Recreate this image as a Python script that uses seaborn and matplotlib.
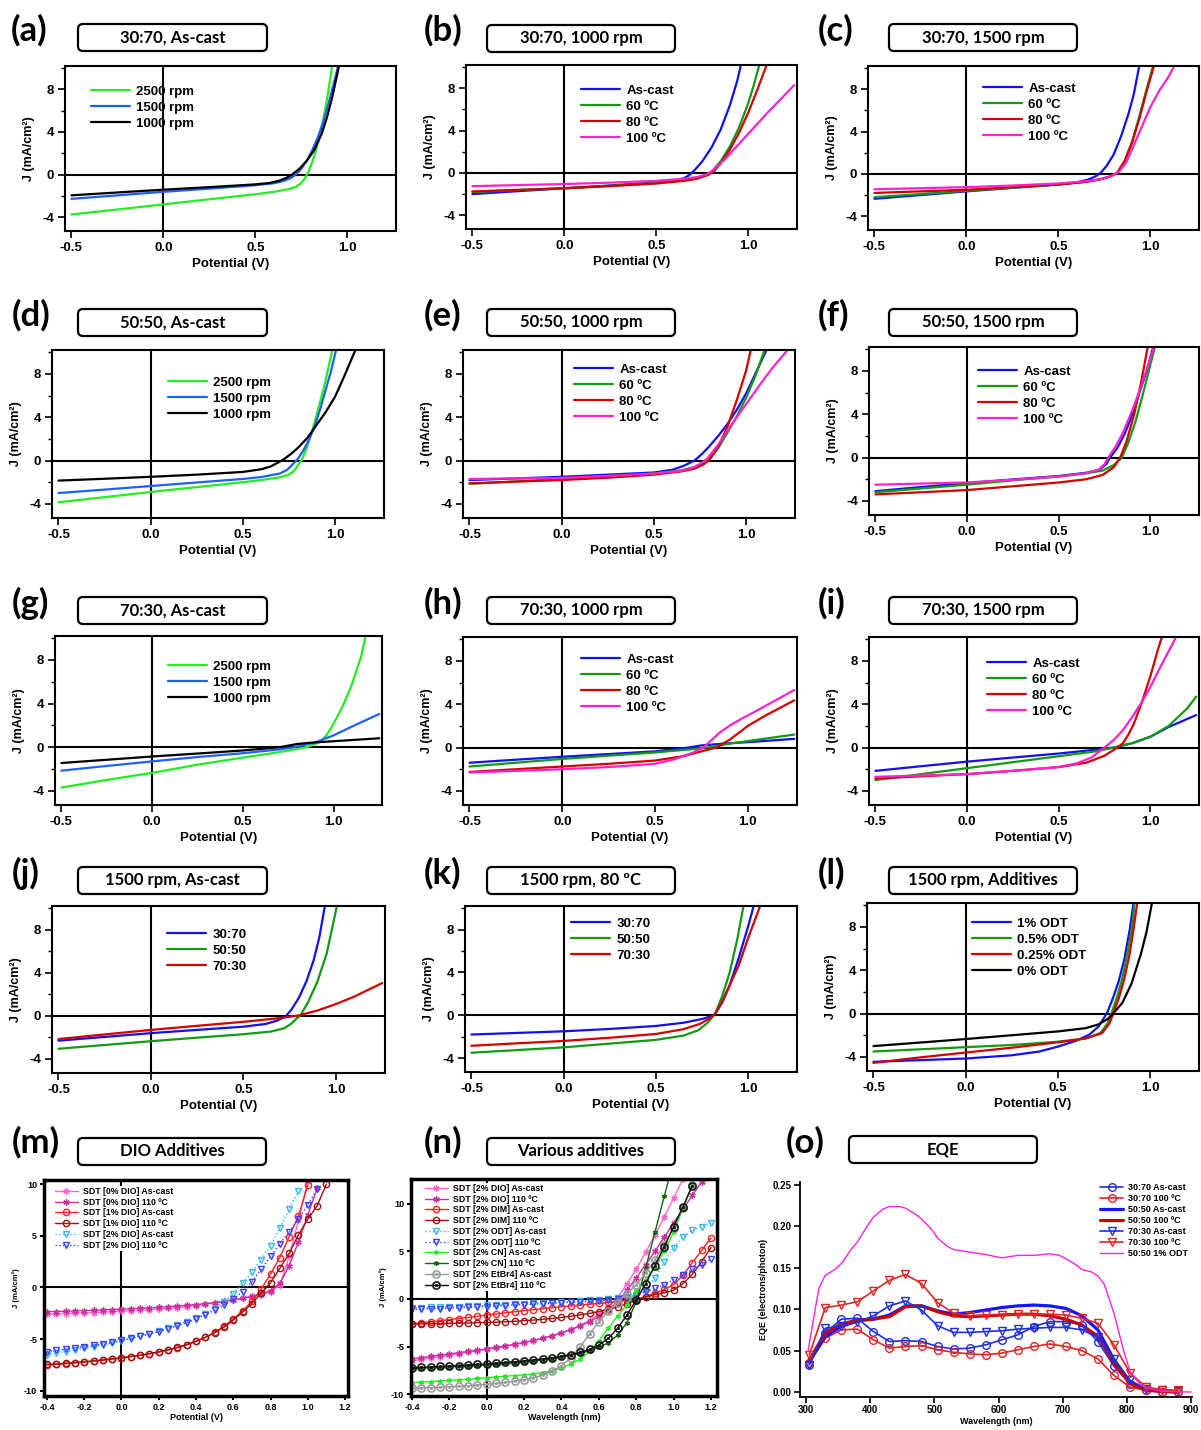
import matplotlib
matplotlib.use("Agg")
import matplotlib.pyplot as plt
import pandas as pd
import seaborn as sns
from matplotlib.patches import FancyBboxPatch
from matplotlib.transforms import IdentityTransform
from matplotlib.ticker import MultipleLocator

# ------------------------------------------------------------------ data
# J-V curves: (Potential V, J mA/cm2) pairs
a_2500 = [(-0.5,-3.75),(-0.25,-3.28),(0.0,-2.80),(0.25,-2.32),(0.5,-1.85),(0.6,-1.62),(0.68,-1.38),(0.72,-1.15),(0.75,-0.8),(0.77,-0.35),(0.79,0.3),(0.81,1.2),(0.83,2.3),(0.85,3.6),(0.87,5.2),(0.89,7.1),(0.91,9.3),(0.917,10.2)]
a_1500 = [(-0.5,-2.28),(-0.25,-1.95),(0.0,-1.62),(0.25,-1.32),(0.5,-1.0),(0.6,-0.82),(0.65,-0.62),(0.69,-0.35),(0.72,0.0),(0.75,0.55),(0.78,1.3),(0.81,2.3),(0.84,3.5),(0.87,5.0),(0.9,6.8),(0.93,8.8),(0.95,10.2)]
a_1000 = [(-0.5,-1.95),(-0.25,-1.68),(0.0,-1.42),(0.25,-1.18),(0.5,-0.92),(0.58,-0.78),(0.63,-0.58),(0.67,-0.3),(0.7,0.0),(0.74,0.55),(0.78,1.3),(0.82,2.3),(0.86,3.8),(0.89,5.4),(0.92,7.4),(0.95,9.8),(0.955,10.2)]

b_ascast = [(-0.5,-2.0),(-0.25,-1.72),(0.0,-1.45),(0.25,-1.18),(0.5,-0.9),(0.6,-0.7),(0.65,-0.5),(0.68,-0.2),(0.71,0.3),(0.75,1.1),(0.8,2.4),(0.85,4.1),(0.9,6.4),(0.94,8.7),(0.96,10.2)]
b_60 = [(-0.5,-1.8),(-0.25,-1.62),(0.0,-1.45),(0.25,-1.22),(0.5,-0.95),(0.65,-0.7),(0.72,-0.5),(0.77,-0.2),(0.8,0.1),(0.85,1.1),(0.9,2.5),(0.95,4.3),(1.0,6.6),(1.03,8.3),(1.06,10.2)]
b_80 = [(-0.5,-1.75),(-0.25,-1.6),(0.0,-1.45),(0.25,-1.25),(0.5,-1.0),(0.65,-0.75),(0.72,-0.55),(0.78,-0.2),(0.81,0.1),(0.85,0.9),(0.9,2.2),(0.95,3.8),(1.0,5.7),(1.05,7.9),(1.1,10.2)]
b_100 = [(-0.5,-1.25),(-0.25,-1.15),(0.0,-1.05),(0.25,-0.92),(0.5,-0.75),(0.65,-0.55),(0.72,-0.4),(0.77,-0.15),(0.8,0.15),(0.85,0.9),(0.9,1.8),(1.0,3.7),(1.1,5.6),(1.2,7.4),(1.25,8.3)]

c_ascast = [(-0.5,-2.35),(-0.25,-2.0),(0.0,-1.65),(0.25,-1.32),(0.5,-1.0),(0.6,-0.8),(0.66,-0.55),(0.7,-0.25),(0.73,0.1),(0.76,0.7),(0.8,1.8),(0.84,3.5),(0.88,5.6),(0.91,7.5),(0.94,10.2)]
c_60 = [(-0.5,-2.2),(-0.25,-1.9),(0.0,-1.6),(0.25,-1.3),(0.5,-1.0),(0.65,-0.75),(0.73,-0.5),(0.78,-0.25),(0.82,0.1),(0.86,1.2),(0.9,3.0),(0.94,5.4),(0.98,8.0),(1.015,10.2)]
c_80 = [(-0.5,-1.8),(-0.25,-1.65),(0.0,-1.5),(0.25,-1.25),(0.5,-1.0),(0.65,-0.75),(0.73,-0.5),(0.78,-0.25),(0.82,0.1),(0.86,1.2),(0.9,2.9),(0.94,5.2),(0.98,7.8),(1.02,10.2)]
c_100 = [(-0.5,-1.45),(-0.25,-1.35),(0.0,-1.25),(0.25,-1.1),(0.5,-0.9),(0.65,-0.7),(0.73,-0.5),(0.79,-0.2),(0.83,0.2),(0.87,1.1),(0.9,2.3),(0.95,4.3),(1.0,6.3),(1.05,7.9),(1.1,9.2),(1.13,10.2)]

d_2500 = [(-0.5,-3.85),(-0.25,-3.38),(0.0,-2.9),(0.25,-2.45),(0.5,-2.0),(0.6,-1.8),(0.7,-1.55),(0.75,-1.3),(0.78,-0.9),(0.8,-0.4),(0.82,0.1),(0.84,0.9),(0.86,1.9),(0.88,3.0),(0.9,4.2),(0.92,5.5),(0.94,6.8),(0.96,8.3),(0.985,10.2)]
d_1500 = [(-0.5,-3.0),(-0.25,-2.68),(0.0,-2.35),(0.25,-2.02),(0.5,-1.7),(0.6,-1.52),(0.7,-1.2),(0.74,-0.85),(0.77,-0.35),(0.8,0.2),(0.83,1.0),(0.86,2.0),(0.89,3.2),(0.92,4.8),(0.95,6.6),(0.98,8.4),(1.005,10.2)]
d_1000 = [(-0.5,-1.85),(-0.25,-1.68),(0.0,-1.5),(0.25,-1.3),(0.5,-1.05),(0.6,-0.8),(0.65,-0.55),(0.7,-0.1),(0.72,0.1),(0.76,0.6),(0.8,1.2),(0.85,2.1),(0.9,3.3),(0.95,4.5),(1.0,5.9),(1.05,7.8),(1.11,10.2)]

e_ascast = [(-0.5,-1.8),(-0.25,-1.65),(0.0,-1.5),(0.25,-1.3),(0.5,-1.1),(0.6,-0.85),(0.66,-0.5),(0.72,0.0),(0.76,0.6),(0.8,1.3),(0.85,2.3),(0.9,3.4),(0.95,4.7),(1.0,6.2),(1.05,8.0),(1.11,10.2)]
e_60 = [(-0.5,-2.15),(-0.25,-1.92),(0.0,-1.7),(0.25,-1.45),(0.5,-1.2),(0.65,-0.9),(0.72,-0.6),(0.77,-0.2),(0.8,0.1),(0.85,1.2),(0.9,2.6),(0.95,4.1),(1.0,5.8),(1.05,7.8),(1.1,10.2)]
e_80 = [(-0.5,-2.1),(-0.25,-1.95),(0.0,-1.8),(0.25,-1.58),(0.5,-1.3),(0.65,-1.0),(0.72,-0.75),(0.77,-0.35),(0.8,0.05),(0.85,1.3),(0.9,3.2),(0.95,5.6),(1.0,8.3),(1.025,10.2)]
e_100 = [(-0.5,-1.7),(-0.25,-1.65),(0.0,-1.6),(0.25,-1.42),(0.5,-1.2),(0.65,-0.95),(0.72,-0.6),(0.76,-0.2),(0.79,0.2),(0.85,1.5),(0.9,2.8),(0.95,4.0),(1.0,5.2),(1.05,6.4),(1.1,7.6),(1.15,8.7),(1.225,10.2)]

f_ascast = [(-0.5,-3.1),(-0.25,-2.72),(0.0,-2.35),(0.25,-2.02),(0.5,-1.7),(0.65,-1.4),(0.72,-1.15),(0.76,-0.6),(0.78,0.0),(0.82,0.9),(0.86,2.2),(0.9,3.9),(0.94,6.0),(0.98,8.0),(1.015,10.2)]
f_60 = [(-0.5,-3.2),(-0.25,-2.85),(0.0,-2.5),(0.25,-2.1),(0.5,-1.75),(0.65,-1.45),(0.74,-1.2),(0.8,-0.7),(0.845,0.0),(0.88,1.4),(0.92,3.4),(0.96,5.9),(1.0,8.6),(1.025,10.2)]
f_80 = [(-0.5,-3.4),(-0.25,-3.2),(0.0,-3.0),(0.25,-2.65),(0.5,-2.3),(0.65,-2.0),(0.74,-1.6),(0.8,-0.9),(0.835,0.0),(0.87,1.5),(0.91,3.9),(0.95,7.0),(0.985,10.2)]
f_100 = [(-0.5,-2.5),(-0.25,-2.4),(0.0,-2.3),(0.25,-2.05),(0.5,-1.75),(0.65,-1.45),(0.72,-1.1),(0.75,-0.6),(0.77,0.0),(0.81,1.0),(0.85,2.3),(0.9,4.3),(0.95,6.6),(1.02,10.2)]

g_2500 = [(-0.5,-3.7),(-0.25,-3.0),(0.0,-2.35),(0.25,-1.6),(0.5,-0.95),(0.7,-0.45),(0.8,-0.15),(0.86,0.05),(0.92,0.45),(0.96,1.1),(1.0,2.2),(1.05,3.8),(1.1,5.8),(1.15,8.3),(1.175,10.2)]
g_1500 = [(-0.5,-2.15),(-0.25,-1.72),(0.0,-1.3),(0.25,-0.9),(0.5,-0.55),(0.7,-0.2),(0.78,0.0),(0.9,0.45),(1.0,1.1),(1.1,1.9),(1.25,3.05)]
g_1000 = [(-0.5,-1.45),(-0.25,-1.15),(0.0,-0.85),(0.25,-0.58),(0.5,-0.3),(0.7,0.0),(0.8,0.3),(0.9,0.45),(1.0,0.55),(1.25,0.82)]

h_ascast = [(-0.5,-1.4),(-0.25,-1.12),(0.0,-0.85),(0.25,-0.6),(0.5,-0.35),(0.68,0.0),(0.75,0.2),(0.9,0.4),(1.0,0.5),(1.25,0.8)]
h_60 = [(-0.5,-1.75),(-0.25,-1.4),(0.0,-1.05),(0.25,-0.75),(0.5,-0.45),(0.7,-0.15),(0.78,0.0),(0.9,0.35),(1.0,0.6),(1.25,1.2)]
h_80 = [(-0.5,-2.25),(-0.25,-2.0),(0.0,-1.75),(0.25,-1.5),(0.5,-1.2),(0.65,-0.8),(0.75,-0.35),(0.83,0.0),(0.9,0.7),(0.97,1.6),(1.0,2.0),(1.1,3.0),(1.25,4.35)]
h_100 = [(-0.5,-2.3),(-0.25,-2.15),(0.0,-2.0),(0.25,-1.8),(0.5,-1.5),(0.6,-1.1),(0.7,-0.5),(0.76,0.0),(0.85,1.4),(0.9,2.0),(0.97,2.7),(1.0,2.95),(1.1,3.9),(1.25,5.3)]

i_ascast = [(-0.5,-2.15),(-0.25,-1.72),(0.0,-1.3),(0.25,-0.92),(0.5,-0.55),(0.7,-0.2),(0.8,0.0),(0.9,0.4),(1.0,1.0),(1.1,1.9),(1.25,3.0)]
i_60 = [(-0.5,-3.0),(-0.25,-2.45),(0.0,-1.9),(0.25,-1.35),(0.5,-0.8),(0.7,-0.35),(0.8,0.0),(0.9,0.4),(1.0,1.0),(1.1,2.0),(1.2,3.6),(1.25,4.7)]
i_80 = [(-0.5,-2.85),(-0.25,-2.65),(0.0,-2.45),(0.25,-2.15),(0.5,-1.8),(0.65,-1.4),(0.75,-0.75),(0.82,0.0),(0.85,0.4),(0.88,1.2),(0.91,2.2),(0.955,4.25),(1.0,6.6),(1.04,9.0),(1.063,10.2)]
i_100 = [(-0.5,-2.7),(-0.25,-2.58),(0.0,-2.45),(0.25,-2.15),(0.5,-1.8),(0.6,-1.45),(0.68,-0.9),(0.75,0.0),(0.8,0.7),(0.85,1.6),(0.9,2.8),(0.955,4.25),(1.0,5.6),(1.05,7.3),(1.1,8.9),(1.14,10.2)]

j_3070 = [(-0.5,-2.3),(-0.25,-1.95),(0.0,-1.6),(0.25,-1.3),(0.5,-1.0),(0.62,-0.75),(0.68,-0.45),(0.71,-0.2),(0.73,0.0),(0.76,0.6),(0.8,1.7),(0.84,3.2),(0.88,5.2),(0.91,7.3),(0.94,10.2)]
j_5050 = [(-0.5,-3.05),(-0.25,-2.7),(0.0,-2.35),(0.25,-2.02),(0.5,-1.7),(0.65,-1.45),(0.72,-1.15),(0.76,-0.7),(0.79,-0.2),(0.81,0.1),(0.85,1.3),(0.9,3.2),(0.95,5.8),(1.005,10.2)]
j_7030 = [(-0.5,-2.15),(-0.25,-1.72),(0.0,-1.3),(0.25,-0.92),(0.5,-0.55),(0.7,-0.2),(0.8,0.05),(0.9,0.5),(1.0,1.1),(1.1,1.8),(1.25,3.05)]

k_3070 = [(-0.5,-1.8),(-0.25,-1.65),(0.0,-1.5),(0.25,-1.28),(0.5,-1.0),(0.65,-0.7),(0.75,-0.35),(0.8,-0.1),(0.82,0.1),(0.86,1.2),(0.9,2.8),(0.95,5.4),(1.0,8.3),(1.03,10.2)]
k_5050 = [(-0.5,-3.5),(-0.25,-3.25),(0.0,-3.0),(0.25,-2.65),(0.5,-2.3),(0.65,-1.9),(0.73,-1.4),(0.78,-0.7),(0.82,0.1),(0.86,1.8),(0.9,4.0),(0.94,7.0),(0.975,10.2)]
k_7030 = [(-0.5,-2.85),(-0.25,-2.62),(0.0,-2.4),(0.25,-2.1),(0.5,-1.75),(0.65,-1.3),(0.74,-0.8),(0.79,-0.3),(0.82,0.1),(0.86,1.3),(0.9,2.8),(0.95,4.7),(1.0,7.2),(1.065,10.2)]

l_1 = [(-0.5,-4.45),(-0.25,-4.3),(0.0,-4.15),(0.25,-3.85),(0.4,-3.5),(0.5,-3.05),(0.6,-2.5),(0.67,-1.95),(0.72,-1.2),(0.75,-0.4),(0.77,0.2),(0.8,1.5),(0.83,3.0),(0.86,5.0),(0.89,7.8),(0.91,10.2)]
l_05 = [(-0.5,-3.5),(-0.25,-3.3),(0.0,-3.1),(0.25,-2.9),(0.5,-2.6),(0.65,-2.3),(0.73,-1.8),(0.77,-0.9),(0.79,0.0),(0.82,1.5),(0.85,3.3),(0.88,5.8),(0.905,8.3),(0.915,10.2)]
l_025 = [(-0.5,-4.55),(-0.25,-4.05),(0.0,-3.6),(0.25,-3.15),(0.5,-2.65),(0.65,-2.3),(0.74,-1.8),(0.78,-0.9),(0.8,0.0),(0.83,1.4),(0.86,3.2),(0.89,5.6),(0.91,7.8),(0.93,10.2)]
l_0 = [(-0.5,-3.0),(-0.25,-2.68),(0.0,-2.35),(0.25,-2.0),(0.5,-1.65),(0.65,-1.35),(0.72,-1.0),(0.77,-0.5),(0.8,0.0),(0.85,1.0),(0.9,2.8),(0.95,5.5),(0.98,7.5),(1.01,10.2)]

# (m) DIO additives: voltage sweep and J for each device
m_v = [-0.40,-0.35,-0.30,-0.25,-0.20,-0.15,-0.10,-0.05,0.00,0.05,0.10,0.15,0.20,0.25,0.30,0.35,0.40,0.45,0.50,0.55,0.60,0.65,0.70,0.75,0.80,0.85,0.90,0.95,1.00,1.05,1.10]
m_dio0_ascast = [-2.60,-2.57,-2.53,-2.50,-2.46,-2.43,-2.39,-2.35,-2.30,-2.26,-2.21,-2.15,-2.09,-2.02,-1.95,-1.86,-1.76,-1.64,-1.50,-1.36,-1.20,-1.05,-0.90,-0.68,-0.40,0.20,3.00,6.50,10.30]
m_dio0_110 = [-2.35,-2.33,-2.30,-2.27,-2.24,-2.21,-2.18,-2.14,-2.10,-2.06,-2.02,-1.97,-1.92,-1.86,-1.80,-1.73,-1.65,-1.56,-1.46,-1.34,-1.20,-1.03,-0.85,-0.62,-0.30,0.40,2.10,4.40,7.00,9.60]
m_dio1_ascast = [-7.50,-7.45,-7.38,-7.30,-7.22,-7.13,-7.04,-6.93,-6.82,-6.70,-6.57,-6.42,-6.25,-6.05,-5.82,-5.55,-5.22,-4.82,-4.35,-3.75,-3.05,-2.25,-1.35,-0.15,1.30,2.90,4.90,6.90,9.90]
m_dio1_110 = [-7.45,-7.40,-7.33,-7.26,-7.18,-7.10,-7.01,-6.91,-6.80,-6.68,-6.55,-6.40,-6.23,-6.03,-5.80,-5.53,-5.20,-4.82,-4.38,-3.85,-3.15,-2.40,-1.55,-0.55,0.45,1.85,3.30,5.10,6.60,7.90,10.00]
m_dio2_ascast = [-6.50,-6.35,-6.20,-6.05,-5.90,-5.75,-5.58,-5.40,-5.15,-4.95,-4.72,-4.48,-4.22,-3.95,-3.65,-3.32,-2.95,-2.52,-2.05,-1.45,-0.60,0.40,1.50,2.70,4.00,5.80,7.60,9.30]
m_dio2_110 = [-6.20,-6.08,-5.96,-5.84,-5.72,-5.60,-5.46,-5.31,-5.12,-4.93,-4.72,-4.50,-4.26,-4.00,-3.71,-3.40,-3.05,-2.66,-2.22,-1.72,-1.12,-0.42,0.55,1.75,3.00,4.25,5.40,6.60,8.00,9.50]

# (n) various additives
n_v = [-0.40,-0.35,-0.30,-0.25,-0.20,-0.15,-0.10,-0.05,0.00,0.05,0.10,0.15,0.20,0.25,0.30,0.35,0.40,0.45,0.50,0.55,0.60,0.65,0.70,0.75,0.80,0.85,0.90,0.95,1.00,1.05,1.10,1.15,1.20]
n_dio_ascast = [-6.50,-6.35,-6.20,-6.05,-5.90,-5.75,-5.60,-5.45,-5.30,-5.15,-4.98,-4.80,-4.60,-4.38,-4.14,-3.87,-3.56,-3.20,-2.78,-2.25,-1.60,-0.80,0.10,1.60,3.10,4.90,6.70,8.60,10.60,12.60]
n_dio_110 = [-6.30,-6.17,-6.04,-5.91,-5.78,-5.65,-5.52,-5.38,-5.24,-5.09,-4.93,-4.76,-4.57,-4.36,-4.13,-3.87,-3.58,-3.24,-2.85,-2.40,-1.85,-1.15,-0.30,0.90,2.20,3.60,5.00,6.50,8.00,9.40,10.90,12.30]
n_dim_ascast = [-2.60,-2.50,-2.40,-2.29,-2.18,-2.06,-1.94,-1.82,-1.70,-1.58,-1.46,-1.35,-1.24,-1.13,-1.03,-0.93,-0.83,-0.74,-0.65,-0.56,-0.47,-0.37,-0.27,-0.16,-0.04,0.25,0.60,1.00,1.50,2.50,3.80,5.10,6.40]
n_dim_110 = [-2.65,-2.63,-2.61,-2.59,-2.57,-2.55,-2.53,-2.50,-2.47,-2.44,-2.40,-2.35,-2.29,-2.22,-2.14,-2.05,-1.94,-1.82,-1.68,-1.52,-1.33,-1.10,-0.82,-0.50,-0.12,0.20,0.45,0.65,0.90,1.60,2.60,3.90,5.40]
n_odt_ascast = [-0.95,-0.92,-0.89,-0.86,-0.83,-0.80,-0.76,-0.72,-0.68,-0.64,-0.60,-0.56,-0.52,-0.48,-0.43,-0.38,-0.33,-0.28,-0.22,-0.16,-0.10,-0.03,0.05,0.15,0.40,0.90,2.20,3.90,5.40,6.50,7.20,7.60,8.00]
n_odt_110 = [-1.10,-1.07,-1.04,-1.01,-0.97,-0.93,-0.89,-0.85,-0.80,-0.75,-0.70,-0.65,-0.60,-0.55,-0.50,-0.45,-0.40,-0.35,-0.30,-0.25,-0.20,-0.13,-0.05,0.10,0.35,0.75,1.10,1.50,2.00,2.50,3.10,3.60,4.20]
n_cn_ascast = [-8.80,-8.74,-8.68,-8.62,-8.56,-8.50,-8.43,-8.36,-8.28,-8.20,-8.12,-8.05,-7.97,-7.88,-7.75,-7.55,-7.25,-6.85,-6.35,-5.50,-4.40,-3.10,-1.80,-0.60,0.80,2.00,3.40,5.00,7.00,9.50,12.00]
n_cn_110 = [-7.30,-7.26,-7.22,-7.18,-7.14,-7.09,-7.04,-6.98,-6.92,-6.85,-6.78,-6.70,-6.61,-6.51,-6.40,-6.27,-6.12,-5.94,-5.72,-5.45,-5.10,-4.60,-3.80,-2.50,-0.30,3.20,7.00,10.80,14.50]
n_etbr_ascast = [-9.40,-9.36,-9.32,-9.28,-9.23,-9.18,-9.12,-9.05,-8.97,-8.88,-8.78,-8.65,-8.50,-8.30,-8.00,-7.60,-7.00,-6.20,-5.00,-3.70,-2.40,-1.30,-0.40,0.50,1.50,2.70,4.10,5.70,7.50,9.60,12.00]
n_etbr_110 = [-7.25,-7.20,-7.15,-7.10,-7.05,-7.00,-6.94,-6.88,-6.82,-6.75,-6.68,-6.60,-6.51,-6.41,-6.30,-6.17,-6.02,-5.84,-5.62,-5.30,-4.85,-4.15,-3.10,-1.70,-0.10,1.60,3.50,5.50,7.60,9.70,11.90]

# (o) EQE
o_wl = [305,330,355,380,405,430,455,480,505,530,555,580,605,630,655,680,705,730,755,780,805,830,855,880]
o_3070_ascast = [0.033,0.071,0.088,0.089,0.073,0.061,0.062,0.061,0.055,0.052,0.053,0.057,0.063,0.069,0.079,0.085,0.085,0.081,0.061,0.031,0.010,0.002,0.000,0.000]
o_3070_100 = [0.035,0.065,0.075,0.076,0.063,0.053,0.055,0.056,0.051,0.048,0.046,0.045,0.047,0.051,0.055,0.058,0.055,0.050,0.040,0.020,0.006,0.002,0.000,0.000]
o_5050_ascast = [0.037,0.067,0.079,0.086,0.088,0.093,0.104,0.104,0.098,0.094,0.096,0.099,0.102,0.104,0.105,0.104,0.101,0.092,0.075,0.039,0.012,0.003,0.001,0.000]
o_5050_100 = [0.039,0.071,0.082,0.087,0.088,0.091,0.103,0.104,0.097,0.092,0.091,0.092,0.093,0.094,0.094,0.092,0.088,0.081,0.067,0.035,0.010,0.002,0.001,0.000]
o_7030_ascast = [0.033,0.077,0.080,0.084,0.092,0.104,0.110,0.099,0.080,0.072,0.072,0.073,0.074,0.076,0.077,0.078,0.078,0.075,0.066,0.040,0.014,0.004,0.002,0.001]
o_7030_100 = [0.045,0.102,0.105,0.109,0.122,0.135,0.142,0.131,0.108,0.095,0.092,0.093,0.093,0.094,0.094,0.094,0.093,0.089,0.083,0.057,0.023,0.006,0.003,0.002]
o_odt_wl = [303,312,320,330,345,355,370,380,395,405,420,430,445,455,470,480,495,505,520,530,555,580,605,630,655,680,695,705,720,730,745,755,765,780,795,805,820,830,855,880,900]
o_odt = [0.049,0.090,0.125,0.141,0.148,0.155,0.172,0.181,0.200,0.211,0.221,0.224,0.224,0.222,0.215,0.209,0.197,0.186,0.176,0.172,0.169,0.166,0.162,0.165,0.165,0.167,0.165,0.161,0.154,0.148,0.145,0.140,0.130,0.095,0.050,0.025,0.010,0.005,0.001,0.0003,0.000]

# ------------------------------------------------------------------ style
W, H = 1201, 1430
sns.set_theme(style="ticks")
plt.rcParams["font.family"] = ["Liberation Sans", "DejaVu Sans"]
plt.rcParams["font.weight"] = "bold"
plt.rcParams["axes.labelweight"] = "bold"
for k in ["axes.edgecolor", "xtick.color", "ytick.color", "text.color", "axes.labelcolor"]:
    plt.rcParams[k] = "black"
TITLE_FONT = ["Lato", "DejaVu Sans"]

C_LGREEN = "#22ee22"
C_LBLUE = "#1f5fff"
C_BLUE = "#1010f0"
C_GREEN = "#129a12"
C_RED = "#d20000"
C_MAG = "#ff22cc"

fig = plt.figure(figsize=(W / 100, H / 100), dpi=100)
fig.patch.set_facecolor("white")


def add_ax(rect):
    l, t, r, b = rect
    return fig.add_axes([l / W, 1 - b / H, (r - l) / W, (b - t) / H])


def draw(ax, x, y, color, label, lw=1.6, **kw):
    df = pd.DataFrame({"x": list(x), "y": list(y)})
    if "marker" in kw:
        kw.setdefault("markeredgecolor", color)
        kw.setdefault("markeredgewidth", 1.0)
    sns.lineplot(data=df, x="x", y="y", ax=ax, color=color, linewidth=lw,
                 label=label, sort=False, estimator=None, **kw)


def place_legend(ax, rect, hx, ty, fs, hl, ls, hp=0.5, opaque=False):
    l, t, r, b = rect
    fx = (hx - l) / (r - l)
    fy = (b - ty) / (b - t)
    lg = ax.legend(loc="upper left", bbox_to_anchor=(fx, fy), frameon=opaque, fontsize=fs,
                   handlelength=hl, labelspacing=ls, handletextpad=hp, borderpad=0.1,
                   borderaxespad=0, fancybox=False)
    if opaque:
        fr = lg.get_frame()
        fr.set_facecolor("white")
        fr.set_edgecolor("none")
        fr.set_alpha(1.0)
        lg.set_zorder(5)


def title_box(box, text, fs=12):
    x0, y0, x1, y1 = box
    p = FancyBboxPatch((x0, H - y1), x1 - x0, y1 - y0,
                       boxstyle="round,pad=0,rounding_size=5",
                       transform=IdentityTransform(), fc="white", ec="black", lw=1.6)
    fig.add_artist(p)
    fig.text((x0 + x1) / 2 / W, 1 - (y0 + y1) / 2 / H, text, ha="center", va="center",
             fontsize=fs, fontweight="bold", family=TITLE_FONT)


def panel_letter(pos, s):
    x, yc = pos
    fig.text(x / W, 1 - yc / H, s, ha="left", va="center", fontsize=25,
             fontweight="bold", family=TITLE_FONT)


JV_PANELS = [
    ("(a)", "30:70, As-cast", (65, 66, 396, 231), (78, 24, 267, 51), (11, 30), (91, 92),
     [(a_2500, "2500 rpm", C_LGREEN), (a_1500, "1500 rpm", C_LBLUE), (a_1000, "1000 rpm", "black")]),
    ("(b)", "30:70, 1000 rpm", (466, 65, 797, 229), (487, 25, 675, 52), (424, 30), (581, 91),
     [(b_ascast, "As-cast", C_BLUE), (b_60, "60 ºC", C_GREEN), (b_80, "80 ºC", C_RED), (b_100, "100 ºC", C_MAG)]),
    ("(c)", "30:70, 1500 rpm", (868, 66, 1199, 230), (889, 24, 1077, 51), (818, 30), (983, 89),
     [(c_ascast, "As-cast", C_BLUE), (c_60, "60 ºC", C_GREEN), (c_80, "80 ºC", C_RED), (c_100, "100 ºC", C_MAG)]),
    ("(d)", "50:50, As-cast", (52, 350, 384, 518), (78, 309, 267, 336), (12, 315), (168, 383),
     [(d_2500, "2500 rpm", C_LGREEN), (d_1500, "1500 rpm", C_LBLUE), (d_1000, "1000 rpm", "black")]),
    ("(e)", "50:50, 1000 rpm", (463, 350, 795, 518), (487, 309, 675, 336), (424, 315), (574, 370),
     [(e_ascast, "As-cast", C_BLUE), (e_60, "60 ºC", C_GREEN), (e_80, "80 ºC", C_RED), (e_100, "100 ºC", C_MAG)]),
    ("(f)", "50:50, 1500 rpm", (869, 347, 1199, 515), (889, 309, 1077, 336), (818, 315), (978, 372),
     [(f_ascast, "As-cast", C_BLUE), (f_60, "60 ºC", C_GREEN), (f_80, "80 ºC", C_RED), (f_100, "100 ºC", C_MAG)]),
    ("(g)", "70:30, As-cast", (55, 636, 382, 805), (78, 597, 267, 624), (12, 603), (168, 667),
     [(g_2500, "2500 rpm", C_LGREEN), (g_1500, "1500 rpm", C_LBLUE), (g_1000, "1000 rpm", "black")]),
    ("(h)", "70:30, 1000 rpm", (463, 637, 797, 805), (487, 597, 675, 624), (424, 603), (581, 660),
     [(h_ascast, "As-cast", C_BLUE), (h_60, "60 ºC", C_GREEN), (h_80, "80 ºC", C_RED), (h_100, "100 ºC", C_MAG)]),
    ("(i)", "70:30, 1500 rpm", (869, 637, 1199, 805), (889, 597, 1077, 624), (818, 603), (987, 664),
     [(i_ascast, "As-cast", C_BLUE), (i_60, "60 ºC", C_GREEN), (i_80, "80 ºC", C_RED), (i_100, "100 ºC", C_MAG)]),
    ("(j)", "1500 rpm, As-cast", (52, 906, 385, 1073), (78, 867, 267, 894), (12, 873), (167, 935),
     [(j_3070, "30:70", C_BLUE), (j_5050, "50:50", C_GREEN), (j_7030, "70:30", C_RED)]),
    ("(k)", "1500 rpm, 80 ºC", (465, 906, 797, 1072), (487, 867, 675, 894), (424, 873), (571, 924),
     [(k_3070, "30:70", C_BLUE), (k_5050, "50:50", C_GREEN), (k_7030, "70:30", C_RED)]),
    ("(l)", "1500 rpm, Additives", (867, 903, 1199, 1071), (889, 867, 1077, 894), (818, 873), (972, 924),
     [(l_1, "1% ODT", C_BLUE), (l_05, "0.5% ODT", C_GREEN), (l_025, "0.25% ODT", C_RED), (l_0, "0% ODT", "black")]),
]

for letter, title, rect, box, lpos, leg, curves in JV_PANELS:
    ax = add_ax(rect)
    ax.axhline(0, color="black", lw=1.5, zorder=1)
    ax.axvline(0, color="black", lw=1.5, zorder=1)
    for pts, lab, col in curves:
        vs = [p[0] for p in pts]
        js = [p[1] for p in pts]
        draw(ax, vs, js, col, lab)
    ax.set_xlim(-0.535, 1.265)
    ax.set_ylim(-5.3, 10.2)
    ax.set_xticks([-0.5, 0.0, 0.5, 1.0])
    ax.set_xticklabels(["-0.5", "0.0", "0.5", "1.0"])
    ax.set_yticks([-4, 0, 4, 8])
    ax.set_yticklabels(["-4", "0", "4", "8"])
    ax.yaxis.set_minor_locator(MultipleLocator(2))
    ax.tick_params(which="major", direction="out", length=5, width=1.2, labelsize=9.5, pad=3)
    ax.tick_params(which="minor", direction="out", length=3, width=1.0)
    for s in ax.spines.values():
        s.set_linewidth(1.5)
    ax.set_xlabel("Potential (V)", fontsize=9.5, labelpad=3)
    ax.set_ylabel("J (mA/cm²)", fontsize=9, labelpad=5)
    place_legend(ax, rect, leg[0] - 1, leg[1] - 8, 9.5, 2.9, 0.29)
    title_box(box, title)
    panel_letter(lpos, letter)

# ------------------------------------------------------------------ (m)
C_PINK = "#ff66cc"
C_MAGD = "#cc2ea0"
C_RED2 = "#ff2020"
C_DRED = "#a01010"
C_SKY = "#33bbee"
C_BLU2 = "#4040ff"
AST = (6, 2, 0)

rect_m = (44, 1180, 348, 1396)
ax = add_ax(rect_m)
ax.axhline(0, color="black", lw=1.5, zorder=1)
ax.axvline(0, color="black", lw=1.5, zorder=1)
m_series = [
    (m_dio0_ascast, "SDT [0% DIO] As-cast", C_PINK, AST, "-"),
    (m_dio0_110, "SDT [0% DIO] 110 ºC", C_MAGD, AST, "-"),
    (m_dio1_ascast, "SDT [1% DIO] As-cast", C_RED2, "o", "-"),
    (m_dio1_110, "SDT [1% DIO] 110 ºC", C_DRED, "o", "-"),
    (m_dio2_ascast, "SDT [2% DIO] As-cast", C_SKY, "v", ":"),
    (m_dio2_110, "SDT [2% DIO] 110 ºC", C_BLU2, "v", ":"),
]
for js, lab, col, mk, lsty in m_series:
    draw(ax, m_v[:len(js)], js, col, lab, lw=1.0, marker=mk, markersize=4.5,
         fillstyle="none", linestyle=lsty)
ax.set_xlim(-0.416, 1.216)
ax.set_ylim(-10.5, 10.4)
mx = [-0.4, -0.2, 0.0, 0.2, 0.4, 0.6, 0.8, 1.0, 1.2]
ax.set_xticks(mx)
ax.set_xticklabels([f"{v:.1f}" for v in mx])
ax.set_yticks([-10, -5, 0, 5, 10])
ax.set_yticklabels(["-10", "-5", "0", "5", "10"])
ax.tick_params(direction="out", length=3, width=1.5, labelsize=6.5, pad=2)
for s in ax.spines.values():
    s.set_linewidth(2.5)
ax.set_xlabel("Potential (V)", fontsize=6.5, labelpad=1)
ax.set_ylabel("J (mA/cm²)", fontsize=5.5, labelpad=3)
place_legend(ax, rect_m, 54, 1186, 6.3, 2.6, 0.2, hp=0.6, opaque=True)
title_box((78, 1138, 266, 1165), "DIO Additives")
panel_letter((12, 1142), "(m)")

# ------------------------------------------------------------------ (n)
C_GRN2 = "#22ee22"
C_DGRN = "#116611"
C_GRAY = "#999999"
rect_n = (411, 1179, 717, 1396)
ax = add_ax(rect_n)
ax.axhline(0, color="black", lw=1.5, zorder=1)
ax.axvline(0, color="black", lw=1.5, zorder=1)
n_series = [
    (n_dio_ascast, "SDT [2% DIO] As-cast", C_PINK, AST, "-", 4.5),
    (n_dio_110, "SDT [2% DIO] 110 ºC", C_MAGD, AST, "-", 4.5),
    (n_dim_ascast, "SDT [2% DIM] As-cast", C_RED2, "o", "-", 4.5),
    (n_dim_110, "SDT [2% DIM] 110 ºC", C_DRED, "o", "-", 4.5),
    (n_odt_ascast, "SDT [2% ODT] As-cast", C_SKY, "v", ":", 4.5),
    (n_odt_110, "SDT [2% ODT] 110 ºC", C_BLU2, "v", ":", 4.5),
    (n_cn_ascast, "SDT [2% CN] As-cast", C_GRN2, AST, "-", 3.2),
    (n_cn_110, "SDT [2% CN] 110 ºC", C_DGRN, AST, "-", 3.2),
    (n_etbr_ascast, "SDT [2% EtBr4] As-cast", C_GRAY, r"$\odot$", "-", 6.0),
    (n_etbr_110, "SDT [2% EtBr4] 110 ºC", "#111111", r"$\odot$", "-", 6.0),
]
for js, lab, col, mk, lsty, ms in n_series:
    kw = dict(marker=mk, markersize=ms, linestyle=lsty)
    if mk in ("o", "v"):
        kw.update(fillstyle="none")
    if mk == r"$\odot$":
        kw.update(markeredgewidth=0.3)
    draw(ax, n_v[:len(js)], js, col, lab, lw=1.0, **kw)
ax.set_xlim(-0.405, 1.232)
ax.set_ylim(-10.2, 12.6)
ax.set_xticks(mx)
ax.set_xticklabels([f"{v:.1f}" for v in mx])
ax.set_yticks([-10, -5, 0, 5, 10])
ax.set_yticklabels(["-10", "-5", "0", "5", "10"])
ax.tick_params(direction="out", length=3, width=1.5, labelsize=6.5, pad=2)
for s in ax.spines.values():
    s.set_linewidth(2.5)
ax.set_xlabel("Wavelength (nm)", fontsize=6.5, labelpad=1)
ax.set_ylabel("J (mA/cm²)", fontsize=5.5, labelpad=3)
place_legend(ax, rect_n, 424, 1183, 6.3, 2.6, 0.2, hp=0.6, opaque=True)
title_box((487, 1138, 675, 1165), "Various additives")
panel_letter((424, 1142), "(n)")

# ------------------------------------------------------------------ (o)
rect_o = (800, 1182, 1192, 1397)
ax = add_ax(rect_o)
o_series = [
    (o_wl, o_3070_ascast, "30:70 As-cast", "#2030e0", dict(marker="o", lw=1.2)),
    (o_wl, o_3070_100, "30:70 100 ºC", "#e02525", dict(marker="o", lw=1.2)),
    (o_wl, o_5050_ascast, "50:50 As-cast", "#1515ff", dict(lw=2.3)),
    (o_wl, o_5050_100, "50:50 100 ºC", "#c80000", dict(lw=2.3)),
    (o_wl, o_7030_ascast, "70:30 As-cast", "#2030e0", dict(marker="v", lw=1.2)),
    (o_wl, o_7030_100, "70:30 100 ºC", "#e02525", dict(marker="v", lw=1.2)),
    (o_odt_wl, o_odt, "50:50 1% ODT", "#ff22dd", dict(lw=1.0)),
]
for xs, ys, lab, col, st in o_series:
    st = dict(st)
    lw = st.pop("lw")
    if "marker" in st:
        st.update(markersize=5.5, fillstyle="none")
    draw(ax, xs, ys, col, lab, lw=lw, **st)
ax.set_xlim(290.6, 901.6)
ax.set_ylim(-0.006, 0.2536)
ax.set_xticks([300, 400, 500, 600, 700, 800, 900])
ax.set_xticklabels(["300", "400", "500", "600", "700", "800", "900"])
ax.set_yticks([0.0, 0.05, 0.10, 0.15, 0.20, 0.25])
ax.set_yticklabels(["0.00", "0.05", "0.10", "0.15", "0.20", "0.25"])
sns.despine(ax=ax)
for s in ("left", "bottom"):
    ax.spines[s].set_linewidth(1.3)
ax.tick_params(direction="out", length=4, width=1.2, labelsize=7, pad=2)
ax.set_xlabel("Wavelength (nm)", fontsize=6.5, labelpad=1)
ax.set_ylabel("EQE (electrons/photon)", fontsize=6.5, labelpad=3)
place_legend(ax, rect_o, 1099, 1182, 6.5, 2.6, 0.22, hp=0.5)
title_box((849, 1136, 1037, 1163), "EQE")
panel_letter((786, 1142), "(o)")

fig.savefig("out.png", dpi=100, facecolor="white")
